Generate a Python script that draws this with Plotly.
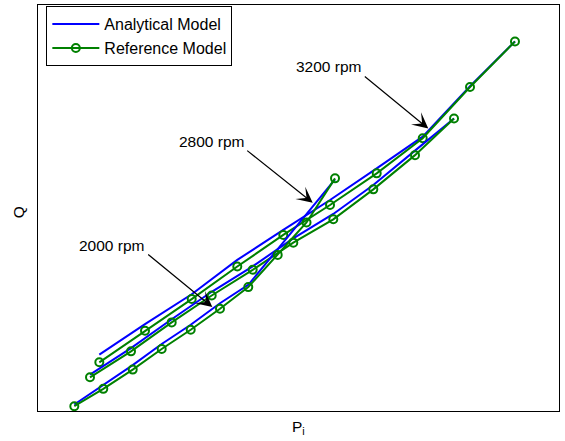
import plotly.graph_objects as go

# Arbitrary normalized units (no tick values are shown in the chart)
speeds = ["3200 rpm", "2800 rpm", "2000 rpm"]

pi_3200 = [11.77, 20.54, 29.50, 38.25, 47.08, 56.05, 65.01, 73.84, 82.92, 91.55]
q_ref_3200 = [11.99, 19.78, 27.57, 35.58, 43.37, 50.74, 58.53, 67.20, 79.80, 91.03]
q_ana_3200 = [13.88, 21.38, 28.75, 37.22, 44.59, 51.97, 59.75, 67.57, 79.98, 91.03]

pi_2800 = [9.98, 17.85, 25.66, 33.34, 41.21, 49.00, 56.68, 64.36, 72.36, 79.85]
q_ref_2800 = [8.30, 14.69, 21.82, 28.45, 34.77, 41.47, 47.22, 54.59, 63.02, 72.04]
q_ana_2800 = [8.97, 15.48, 22.60, 29.36, 35.63, 42.51, 48.53, 55.65, 64.13, 72.04]

pi_2000 = [6.97, 12.53, 18.18, 23.74, 29.31, 34.93, 40.36, 46.01, 51.54, 57.01]
q_ref_2000 = [1.18, 5.45, 10.20, 15.28, 20.02, 25.18, 30.52, 38.45, 46.44, 57.30]
q_ana_2000 = [1.60, 6.44, 11.30, 16.51, 21.25, 26.54, 31.08, 39.85, 48.40, 57.05]

curves = [
    (pi_3200, q_ana_3200, q_ref_3200),
    (pi_2800, q_ana_2800, q_ref_2800),
    (pi_2000, q_ana_2000, q_ref_2000),
]

FONT = "Liberation Sans, Arial, Helvetica, sans-serif"
BLUE = "#0000ff"
GREEN = "#008000"

fig = go.Figure()
for i, (px, qa, qr) in enumerate(curves):
    fig.add_trace(go.Scatter(
        x=px, y=qa, mode="lines", name="Analytical Model",
        line=dict(color=BLUE, width=2), showlegend=(i == 0),
        legendgroup="ana"))
    fig.add_trace(go.Scatter(
        x=px, y=qr, mode="lines+markers", name="Reference Model",
        line=dict(color=GREEN, width=2),
        marker=dict(symbol="circle-open", size=8, color=GREEN,
                    line=dict(width=2, color=GREEN)),
        showlegend=(i == 0), legendgroup="ref"))

# annotation arrows: (text center, arrow tail, arrow tip)
ann_specs = [
    ((55.85, 84.89), (62.44, 82.68), (74.91, 69.58)),
    ((33.28, 66.29), (39.87, 64.42), (52.73, 51.30)),
    ((14.20, 40.74), (20.86, 38.87), (33.46, 25.60)),
]
annotations = []
for label, (tc, tail, tip) in zip(speeds, ann_specs):
    annotations.append(dict(
        x=tip[0], y=tip[1], ax=tail[0], ay=tail[1], xref="x", yref="y",
        axref="x", ayref="y", text="", showarrow=True, arrowhead=3,
        arrowsize=2.2, arrowwidth=1.2, arrowcolor="black"))
    annotations.append(dict(
        x=tc[0], y=tc[1], xref="x", yref="y", text=label, showarrow=False,
        font=dict(family=FONT, size=15.5, color="black"),
        xanchor="center", yanchor="middle"))

annotations.append(dict(
    x=-0.038, y=0.49, xref="paper", yref="paper", text="Q", textangle=-90,
    showarrow=False, font=dict(family=FONT, size=15.5, color="black"),
    xanchor="center", yanchor="middle"))
annotations.append(dict(
    x=0.5, y=-0.012, xref="paper", yref="paper", text="P<sub>i</sub>",
    showarrow=False, font=dict(family=FONT, size=15.5, color="black"),
    xanchor="center", yanchor="top"))

axis_common = dict(showline=True, mirror=True, linecolor="black", linewidth=1,
                   showgrid=False, zeroline=False, showticklabels=False,
                   ticks="")
fig.update_layout(
    width=565, height=441,
    margin=dict(l=38, r=6, t=5, b=30),
    paper_bgcolor="white", plot_bgcolor="white",
    xaxis=dict(range=[0, 100], **axis_common),
    yaxis=dict(range=[0, 100], **axis_common),
    legend=dict(x=0.016, y=0.997, xanchor="left", yanchor="top",
                bgcolor="white", bordercolor="black", borderwidth=1,
                font=dict(family=FONT, size=16, color="black"),
                tracegroupgap=0, itemwidth=47),
    annotations=annotations,
    font=dict(family=FONT, color="black"),
)

fig.write_html("out.html",
               config={"displayModeBar": False},
               post_script="document.body.style.margin='0';"
                           "document.body.style.overflow='hidden';")
